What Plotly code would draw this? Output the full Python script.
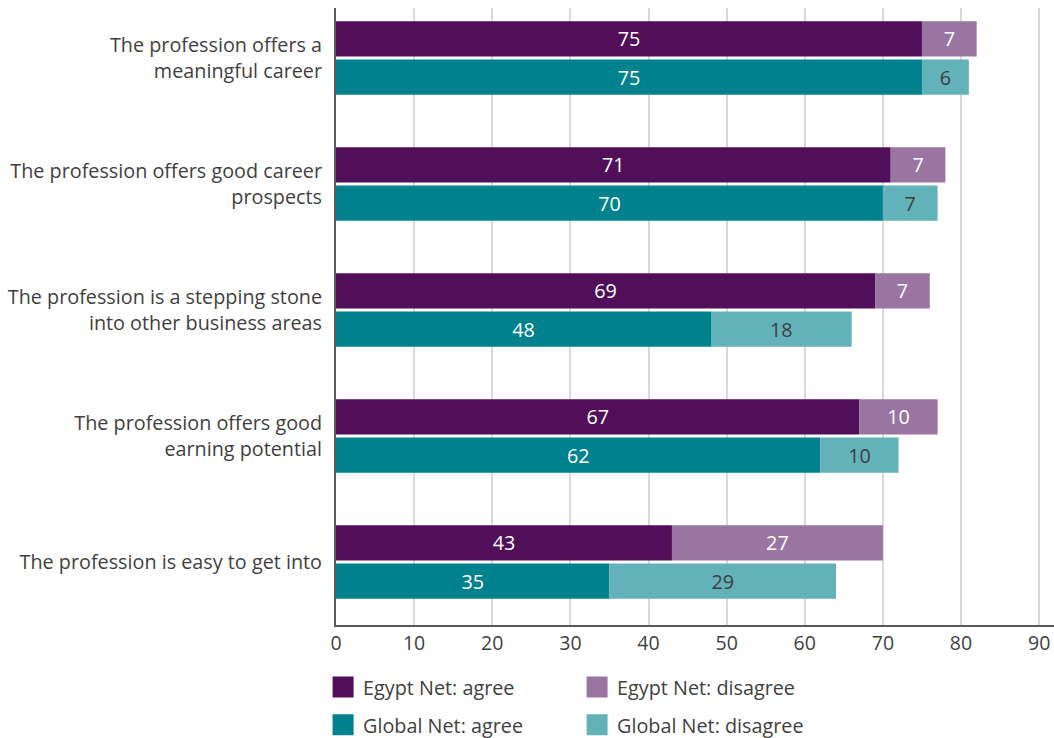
import plotly.graph_objects as go

# Statements, listed bottom-to-top as they sit on the y axis
categories = [
    "The profession is easy to get into",
    "The profession offers good<br>earning potential",
    "The profession is a stepping stone<br>into other business areas",
    "The profession offers good career<br>prospects",
    "The profession offers a<br>meaningful career",
]
egypt_agree = [43, 67, 69, 71, 75]
egypt_disagree = [27, 10, 7, 7, 7]
global_agree = [35, 62, 48, 70, 75]
global_disagree = [29, 10, 18, 7, 6]
x_ticks = [0, 10, 20, 30, 40, 50, 60, 70, 80, 90]

C_EG_AGREE = "#510f5a"
C_EG_DIS = "#9b75a1"
C_GL_AGREE = "#00828e"
C_GL_DIS = "#63b2b9"
FONT = "Open Sans"
TXT = "#3f3f3f"
FS = 19.8

idx = list(range(len(categories)))
bar_w = 0.28
shift = 0.152
y_eg = [i + shift for i in idx]
y_gl = [i - shift for i in idx]

fig = go.Figure()


def seg(x, y, base, color, tcolor):
    fig.add_trace(go.Bar(
        x=x, y=y, base=base, orientation="h", width=bar_w,
        marker=dict(color=color, line=dict(width=0)),
        text=[str(v) for v in x], textposition="inside",
        insidetextanchor="middle", textangle=0,
        textfont=dict(family=FONT, size=FS, color=tcolor),
        showlegend=False, hoverinfo="skip",
    ))


seg(egypt_agree, y_eg, [0] * len(idx), C_EG_AGREE, "white")
seg(egypt_disagree, y_eg, egypt_agree, C_EG_DIS, "white")
seg(global_agree, y_gl, [0] * len(idx), C_GL_AGREE, "white")
seg(global_disagree, y_gl, global_agree, C_GL_DIS, TXT)

# Legend entries with large square swatches
legend_items = [
    ("Egypt Net: agree", C_EG_AGREE, "legend"),
    ("Egypt Net: disagree", C_EG_DIS, "legend"),
    ("Global Net: agree", C_GL_AGREE, "legend2"),
    ("Global Net: disagree", C_GL_DIS, "legend2"),
]
for name, color, lg in legend_items:
    fig.add_trace(go.Scatter(
        x=[None], y=[None], mode="markers", name=name, legend=lg,
        marker=dict(symbol="square", size=16, color=color,
                    line=dict(color=color, width=5)),
        showlegend=True,
    ))

legend_common = dict(
    orientation="h", xanchor="left", yanchor="middle",
    font=dict(family=FONT, size=FS, color=TXT),
    entrywidth=209, itemclick=False, bgcolor="rgba(0,0,0,0)",
    traceorder="normal",
)

fig.update_layout(
    width=1054, height=738,
    margin=dict(l=336, r=0, t=8, b=113, autoexpand=False),
    paper_bgcolor="white", plot_bgcolor="white",
    barmode="overlay",
    font=dict(family=FONT, size=FS, color=TXT),
    xaxis=dict(
        range=[0, 91.9], tickvals=x_ticks, ticks="",
        showgrid=True, gridcolor="#d9d9d9", gridwidth=1.5,
        showline=True, linecolor="#5a5a5a", linewidth=2,
        zeroline=False, tickfont=dict(family=FONT, size=19.5, color=TXT),
        fixedrange=True,
    ),
    yaxis=dict(
        range=[-0.5, 4.397], tickvals=idx, ticktext=categories, ticks="",
        showgrid=False, showline=True, linecolor="#5a5a5a", linewidth=2,
        zeroline=False, ticklabelstandoff=8,
        tickfont=dict(family=FONT, size=FS, color=TXT), fixedrange=True,
    ),
    legend=dict(x=-0.018, y=-0.1005, **legend_common),
    legend2=dict(x=-0.018, y=-0.162, **legend_common),
)

fig.write_html("out.html")
